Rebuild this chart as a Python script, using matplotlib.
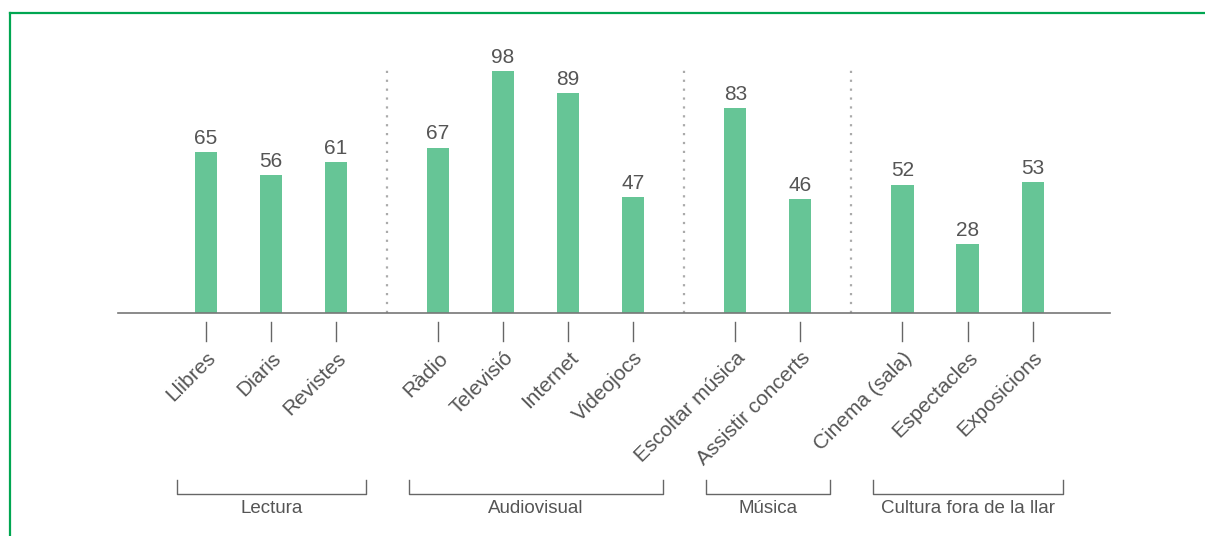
import matplotlib.pyplot as plt
from matplotlib.lines import Line2D
import matplotlib.transforms as mtransforms

# ------------------ DATA ------------------
groups = ['Lectura', 'Audiovisual', 'Música', 'Cultura fora de la llar']
group_items = [
    ['Llibres', 'Diaris', 'Revistes'],
    ['Ràdio', 'Televisió', 'Internet', 'Videojocs'],
    ['Escoltar música', 'Assistir concerts'],
    ['Cinema (sala)', 'Espectacles', 'Exposicions'],
]
group_values = [
    [65, 56, 61],
    [67, 98, 89, 47],
    [83, 46],
    [52, 28, 53],
]
# ------------------------------------------

BAR_COLOR = '#66c596'
TEXT_COLOR = '#555555'
GROUP_GAP = 0.57
FONT = 'Liberation Sans'

plt.rcParams['font.family'] = [FONT, 'DejaVu Sans']

fig = plt.figure(figsize=(12.05, 5.36), dpi=100)
ax = fig.add_axes([118 / 1205, 223 / 536, (1110 - 118) / 1205, 247 / 536])

# compute x positions per group
positions = []
pos = 0.0
for items in group_items:
    grp = []
    for _ in items:
        grp.append(pos)
        pos += 1
    positions.append(grp)
    pos += GROUP_GAP

xs = [p for grp in positions for p in grp]
vals = [v for grp in group_values for v in grp]
labels = [l for grp in group_items for l in grp]

ax.bar(xs, vals, width=0.34, color=BAR_COLOR, zorder=2)
for x, v in zip(xs, vals):
    ax.annotate(str(v), (x, v), xytext=(0, 3), textcoords='offset points',
                ha='center', va='bottom', fontsize=15, color=TEXT_COLOR)

ax.set_xlim(-1.35, 13.9)
ax.set_ylim(0, 100)
for s in ['top', 'right', 'left']:
    ax.spines[s].set_visible(False)
ax.spines['bottom'].set_color('#777777')
ax.spines['bottom'].set_linewidth(1.2)
ax.set_yticks([])
ax.set_xticks([])

xtr = ax.get_xaxis_transform()

# tick marks and rotated labels
lbl_off = mtransforms.ScaledTranslation(0.07, 0, fig.dpi_scale_trans)
for x, lab in zip(xs, labels):
    ax.plot([x, x], [-0.036, -0.113], transform=xtr, color='#666666',
            lw=1.0, clip_on=False)
    ax.text(x, -0.17, lab, transform=xtr + lbl_off, rotation=45,
            rotation_mode='anchor', ha='right', va='center',
            fontsize=15, color=TEXT_COLOR, clip_on=False)

# dotted separators between groups
for a, b in zip(positions[:-1], positions[1:]):
    sx = (a[-1] + b[0]) / 2
    ax.plot([sx, sx], [0, 0.99], transform=xtr, color='#aaaaaa', lw=1.6,
            linestyle=(0, (1, 3)), zorder=1)

# group brackets
for grp, name in zip(positions, groups):
    x0 = grp[0] - 0.45
    x1 = grp[-1] + 0.46
    ax.plot([x0, x0, x1, x1], [-0.676, -0.733, -0.733, -0.676], transform=xtr,
            color='#666666', lw=1.0, clip_on=False)
    ax.text((x0 + x1) / 2, -0.793, name, transform=xtr, ha='center',
            va='center', fontsize=13.5, color=TEXT_COLOR, clip_on=False)

# green frame on top and left
frame_color = '#00a651'
fig.add_artist(Line2D([9.5 / 1205, 1], [1 - 12.5 / 536, 1 - 12.5 / 536],
                      transform=fig.transFigure, color=frame_color, lw=1.6))
fig.add_artist(Line2D([9.5 / 1205, 9.5 / 1205], [0, 1 - 12.5 / 536],
                      transform=fig.transFigure, color=frame_color, lw=1.6))

fig.savefig('out.png', dpi=100)
